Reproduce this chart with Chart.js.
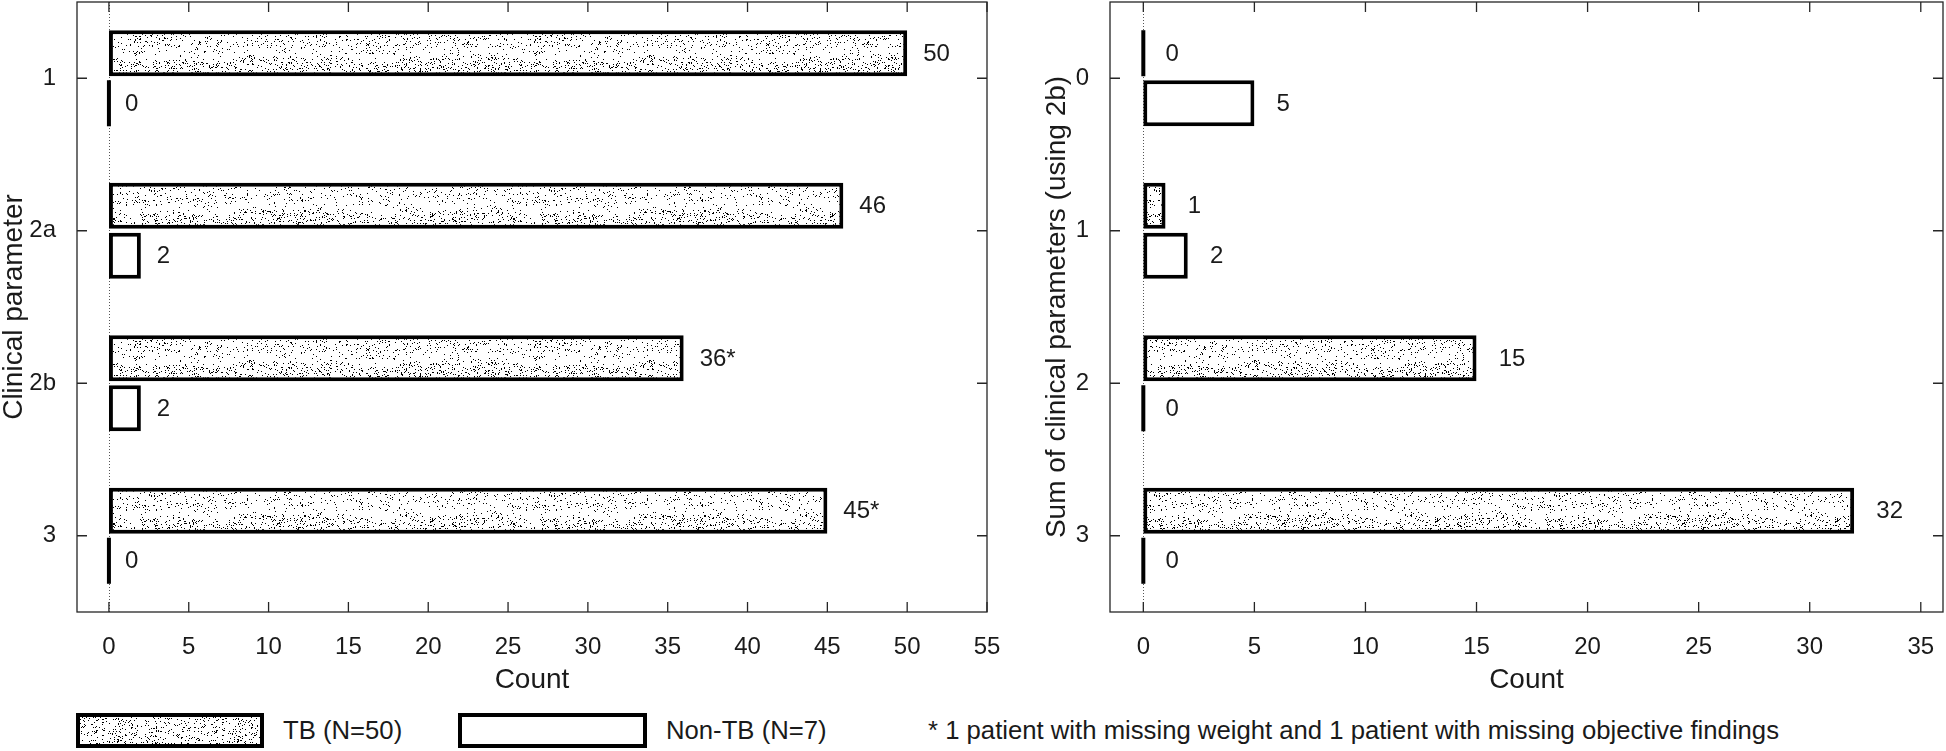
<!DOCTYPE html>
<html>
<head>
<meta charset="utf-8">
<script src="https://cdn.jsdelivr.net/npm/chart.js@4.4.1/dist/chart.umd.min.js"></script>
<style>
  body { margin: 0; background: #fff; width: 1946px; height: 751px; overflow: hidden; position: relative;
         font-family: "Liberation Sans", Arial, sans-serif; color: #1a1a1a; }
  canvas { position: absolute; }
  #left { left: 0; top: 0; }
  #right { left: 1005px; top: 0; }
  .swatch { top: 713px; }
  .lg { position: absolute; top: 713px; height: 35px; line-height: 35px; font-size: 25.7px; white-space: nowrap; }
</style>
</head>
<body>
<canvas id="left" width="1005" height="700"></canvas>
<canvas id="right" width="941" height="700"></canvas>
<canvas id="swTB" class="swatch" width="188" height="35" style="left:76px"></canvas>
<div class="lg" style="left:283px">TB (N=50)</div>
<canvas id="swNon" class="swatch" width="189" height="35" style="left:458px"></canvas>
<div class="lg" style="left:666px">Non-TB (N=7)</div>
<div class="lg" style="left:928px">* 1 patient with missing weight and 1 patient with missing objective findings</div>
<script>
// left panel: counts per clinical parameter
var leftCategories = ['1', '2a', '2b', '3'];
var leftTB = [50, 46, 36, 45];
var leftNonTB = [0, 2, 2, 0];
var leftTBNotes = ['', '', '*', '*'];
var leftNonTBNotes = ['', '', '', ''];
var leftTicks = [0, 5, 10, 15, 20, 25, 30, 35, 40, 45, 50, 55];

// right panel: counts per sum of clinical parameters
var rightCategories = ['0', '1', '2', '3'];
var rightTB = [0, 1, 15, 32];
var rightNonTB = [5, 2, 0, 0];
var rightNotes = ['', '', '', ''];
var rightTicks = [0, 5, 10, 15, 20, 25, 30, 35];

Chart.defaults.font.family = '"Liberation Sans", Arial, sans-serif';
Chart.defaults.color = '#1a1a1a';

// seeded noise for the stipple texture only
var seed = 12345;
function rnd() { seed = (seed * 16807) % 2147483647; return seed / 2147483647; }

function makeStipple() {
    var c = document.createElement('canvas');
    c.width = 400; c.height = 305;
    var g = c.getContext('2d');
    g.fillStyle = '#fff';
    g.fillRect(0, 0, c.width, c.height);
    g.fillStyle = '#000';
    for (var y = 0; y < c.height; y++) {
        var local = ((y - 30) % 152.5 + 152.5) % 152.5;
        for (var x = 0; x < c.width; x++) {
            var t = local + 3 * Math.sin(x / 37) + 2 * Math.sin(x / 13 + 1);
            var p = t < 20 ? 0.07 : (t < 28 ? 0.02 : 0.11);
            if (rnd() < p) g.fillRect(x, y, 1, 1);
        }
    }
    return c;
}

function makeFlatStipple(w, h, p) {
    var c = document.createElement('canvas');
    c.width = w; c.height = h;
    var g = c.getContext('2d');
    g.fillStyle = '#fff';
    g.fillRect(0, 0, w, h);
    g.fillStyle = '#000';
    for (var y = 0; y < h; y++)
        for (var x = 0; x < w; x++)
            if (rnd() < p) g.fillRect(x, y, 1, 1);
    return c;
}

var stippleCanvas = makeStipple();

var framePlugin = {
    id: 'frame',
    beforeDatasetsDraw: function(chart) {
        var ctx = chart.ctx, a = chart.chartArea;
        var x0 = Math.round(chart.scales.x.getPixelForValue(0)) + 0.5;
        ctx.save();
        ctx.strokeStyle = '#555';
        ctx.lineWidth = 1;
        ctx.setLineDash([1, 2]);
        ctx.beginPath();
        ctx.moveTo(x0, a.top);
        ctx.lineTo(x0, a.bottom);
        ctx.stroke();
        ctx.restore();
    },
    afterDatasetsDraw: function(chart) {
        var ctx = chart.ctx, a = chart.chartArea;
        var xs = chart.scales.x, ys = chart.scales.y;
        var x0 = xs.getPixelForValue(0);
        ctx.save();
        chart.data.datasets.forEach(function(ds, di) {
            var meta = chart.getDatasetMeta(di);
            meta.data.forEach(function(el, i) {
                var v = ds.data[i];
                if (v === 0) {
                    ctx.fillStyle = '#000';
                    ctx.fillRect(x0 - 2, el.y - el.height / 2, 4, el.height);
                }
                ctx.fillStyle = '#1a1a1a';
                ctx.font = '24px "Liberation Sans", Arial, sans-serif';
                ctx.textAlign = 'left';
                ctx.textBaseline = 'middle';
                ctx.fillText(v + ds.notes[i], xs.getPixelForValue(v + 1), el.y + 1);
            });
        });
        // box with inward ticks
        ctx.strokeStyle = '#262626';
        ctx.lineWidth = 1.3;
        ctx.strokeRect(a.left, a.top, a.right - a.left, a.bottom - a.top);
        ctx.beginPath();
        xs.ticks.forEach(function(t) {
            var px = xs.getPixelForValue(t.value);
            ctx.moveTo(px, a.bottom); ctx.lineTo(px, a.bottom - 10);
            ctx.moveTo(px, a.top); ctx.lineTo(px, a.top + 10);
        });
        ys.ticks.forEach(function(t, i) {
            var py = ys.getPixelForTick(i);
            ctx.moveTo(a.left, py); ctx.lineTo(a.left + 10, py);
            ctx.moveTo(a.right, py); ctx.lineTo(a.right - 10, py);
        });
        ctx.stroke();
        ctx.restore();
    }
};

function makeChart(id, cats, tb, tbNotes, non, nonNotes, ticks, xmin, xmax, yTitle, yWidth, titlePad, rightPad) {
    var ctx = document.getElementById(id).getContext('2d');
    var stipple = ctx.createPattern(stippleCanvas, 'repeat');
    return new Chart(ctx, {
        type: 'bar',
        data: {
            labels: cats,
            datasets: [{
                label: 'TB (N=50)',
                data: tb,
                notes: tbNotes,
                backgroundColor: stipple,
                borderColor: '#000',
                borderWidth: 4,
                borderSkipped: false,
                categoryPercentage: 0.656,
                barPercentage: 0.92
            }, {
                label: 'Non-TB (N=7)',
                data: non,
                notes: nonNotes,
                backgroundColor: '#fff',
                borderColor: '#000',
                borderWidth: 4,
                borderSkipped: false,
                categoryPercentage: 0.656,
                barPercentage: 0.92
            }]
        },
        options: {
            indexAxis: 'y',
            responsive: false,
            animation: false,
            layout: { padding: { top: 2, right: rightPad, bottom: 0, left: 0 } },
            plugins: { legend: { display: false }, tooltip: { enabled: false } },
            scales: {
                x: {
                    type: 'linear',
                    min: xmin,
                    max: xmax,
                    grid: { display: false },
                    border: { display: false },
                    afterBuildTicks: function(s) { s.ticks = ticks.map(function(v) { return { value: v }; }); },
                    afterFit: function(s) { s.height = 88; s.paddingLeft = 0; s.paddingRight = 0; },
                    ticks: { font: { size: 24 }, padding: 13, autoSkip: false, maxRotation: 0 },
                    title: { display: true, text: 'Count', font: { size: 28, lineHeight: 1 }, padding: { top: 0, bottom: 6 } }
                },
                y: {
                    grid: { display: false },
                    border: { display: false },
                    afterFit: function(s) { s.width = yWidth; s.paddingTop = 0; s.paddingBottom = 0; },
                    ticks: { font: { size: 24 }, padding: 13 },
                    title: { display: true, text: yTitle, font: { size: 28, lineHeight: 1 }, padding: { top: titlePad, bottom: 0 } }
                }
            }
        },
        plugins: [framePlugin]
    });
}

makeChart('left', leftCategories, leftTB, leftTBNotes, leftNonTB, leftNonTBNotes, leftTicks,
    -2, 55, 'Clinical parameter', 77, 0, 18);
makeChart('right', rightCategories, rightTB, rightNotes, rightNonTB, rightNotes, rightTicks,
    -1.5, 36, 'Sum of clinical parameters (using 2b)', 105, 38, 3);

// legend swatches
function drawSwatch(id, filled) {
    var c = document.getElementById(id), g = c.getContext('2d');
    g.fillStyle = filled ? g.createPattern(makeFlatStipple(120, 40, 0.09), 'repeat') : '#fff';
    g.fillRect(0, 0, c.width, c.height);
    g.lineWidth = 4;
    g.strokeStyle = '#000';
    g.strokeRect(2, 2, c.width - 4, c.height - 4);
}
drawSwatch('swTB', true);
drawSwatch('swNon', false);
</script>
</body>
</html>
